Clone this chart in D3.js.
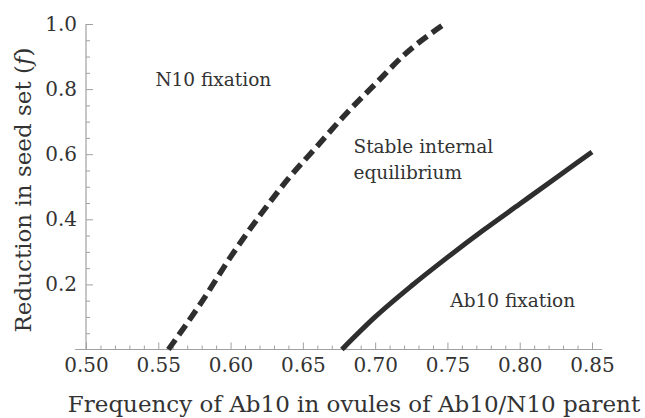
<!DOCTYPE html>
<html>
<head>
<meta charset="utf-8">
<script src="https://cdn.jsdelivr.net/npm/d3@7"></script>
<style>
  body { margin: 0; background: #fff; }
  text { font-family: "DejaVu Serif", serif; fill: #333; }
</style>
</head>
<body>
<div id="chart"></div>
<script>
// data
const dashedX = [0.557, 0.58, 0.60, 0.62, 0.64, 0.66, 0.68, 0.70, 0.72, 0.748];
const dashedY = [0, 0.146, 0.284, 0.410, 0.525, 0.625, 0.725, 0.815, 0.905, 1.0];
const solidX = [0.677, 0.70, 0.725, 0.75, 0.775, 0.80, 0.825, 0.85];
const solidY = [0, 0.10, 0.195, 0.283, 0.367, 0.447, 0.527, 0.607];
const xTicks = [0.50, 0.55, 0.60, 0.65, 0.70, 0.75, 0.80, 0.85];
const yTicks = [0.2, 0.4, 0.6, 0.8, 1.0];
const regionLabels = [
  { lines: ["N10 fixation"], x: 0.548, y: 0.81 },
  { lines: ["Stable internal", "equilibrium"], x: 0.685, y: 0.605 },
  { lines: ["Ab10 fixation"], x: 0.752, y: 0.13 }
];

const W = 645, H = 418;
const svg = d3.select("#chart").append("svg")
  .attr("width", W).attr("height", H);

const x = d3.scaleLinear().domain([0.5, 0.85]).range([86, 592]);
const y = d3.scaleLinear().domain([0, 1]).range([349.5, 24]);

const axisGrey = "#a0a0a0";

// axis lines
svg.append("line")
  .attr("x1", x(0.4925)).attr("x2", x(0.857))
  .attr("y1", y(0)).attr("y2", y(0))
  .attr("stroke", axisGrey).attr("stroke-width", 1.2);
svg.append("line")
  .attr("x1", x(0.5)).attr("x2", x(0.5))
  .attr("y1", y(0)).attr("y2", y(1))
  .attr("stroke", axisGrey).attr("stroke-width", 1.2);

// x axis: minor ticks then majors
const xMinor = d3.range(51, 85).map(d => d / 100).filter(d => Math.round(d * 100) % 5 !== 0);
svg.append("g").attr("transform", `translate(0,${y(0)})`)
  .call(d3.axisBottom(x).tickValues(xMinor).tickSize(-4).tickFormat(""))
  .call(g => g.select(".domain").remove())
  .call(g => g.selectAll("line").attr("stroke", axisGrey));
svg.append("g").attr("transform", `translate(0,${y(0)})`)
  .call(d3.axisBottom(x).tickValues(xTicks).tickSize(-7).tickPadding(8).tickFormat(d3.format(".2f")))
  .call(g => g.select(".domain").remove())
  .call(g => g.selectAll("line").attr("stroke", axisGrey))
  .call(g => g.selectAll("text").style("font-size", "20px").style("font-family", "DejaVu Serif").attr("fill", "#333"));

// y axis
const yMinor = d3.range(1, 20).map(d => d / 20).filter(d => Math.round(d * 20) % 4 !== 0);
svg.append("g").attr("transform", `translate(${x(0.5)},0)`)
  .call(d3.axisLeft(y).tickValues(yMinor).tickSize(-4).tickFormat(""))
  .call(g => g.select(".domain").remove())
  .call(g => g.selectAll("line").attr("stroke", axisGrey));
svg.append("g").attr("transform", `translate(${x(0.5)},0)`)
  .call(d3.axisLeft(y).tickValues(yTicks).tickSize(-7).tickPadding(9).tickFormat(d3.format(".1f")))
  .call(g => g.select(".domain").remove())
  .call(g => g.selectAll("line").attr("stroke", axisGrey))
  .call(g => g.selectAll("text").style("font-size", "20px").style("font-family", "DejaVu Serif").attr("fill", "#333"));

// curves
const line = d3.line().x(d => x(d[0])).y(d => y(d[1])).curve(d3.curveMonotoneX);
svg.append("path")
  .datum(dashedX.map((v, i) => [v, dashedY[i]]))
  .attr("d", line)
  .attr("fill", "none").attr("stroke", "#2e2e2e")
  .attr("stroke-width", 5.5).attr("stroke-dasharray", "12,6");
svg.append("path")
  .datum(solidX.map((v, i) => [v, solidY[i]]))
  .attr("d", line)
  .attr("fill", "none").attr("stroke", "#2e2e2e")
  .attr("stroke-width", 5);

// region labels
regionLabels.forEach(l => {
  const t = svg.append("text")
    .attr("x", x(l.x)).attr("y", y(l.y))
    .style("font-size", "18.5px");
  l.lines.forEach((s, i) => {
    t.append("tspan").attr("x", x(l.x)).attr("dy", i ? 26 : 0).text(s);
  });
});

// axis titles
svg.append("text")
  .attr("x", 354).attr("y", 412)
  .attr("text-anchor", "middle")
  .style("font-size", "23px")
  .text("Frequency of Ab10 in ovules of Ab10/N10 parent");

const yt = svg.append("text")
  .attr("transform", "translate(31,190) rotate(-90)")
  .attr("text-anchor", "middle")
  .style("font-size", "23px");
yt.append("tspan").text("Reduction in seed set (");
yt.append("tspan").style("font-style", "italic").text("f");
yt.append("tspan").text(")");
</script>
</body>
</html>
